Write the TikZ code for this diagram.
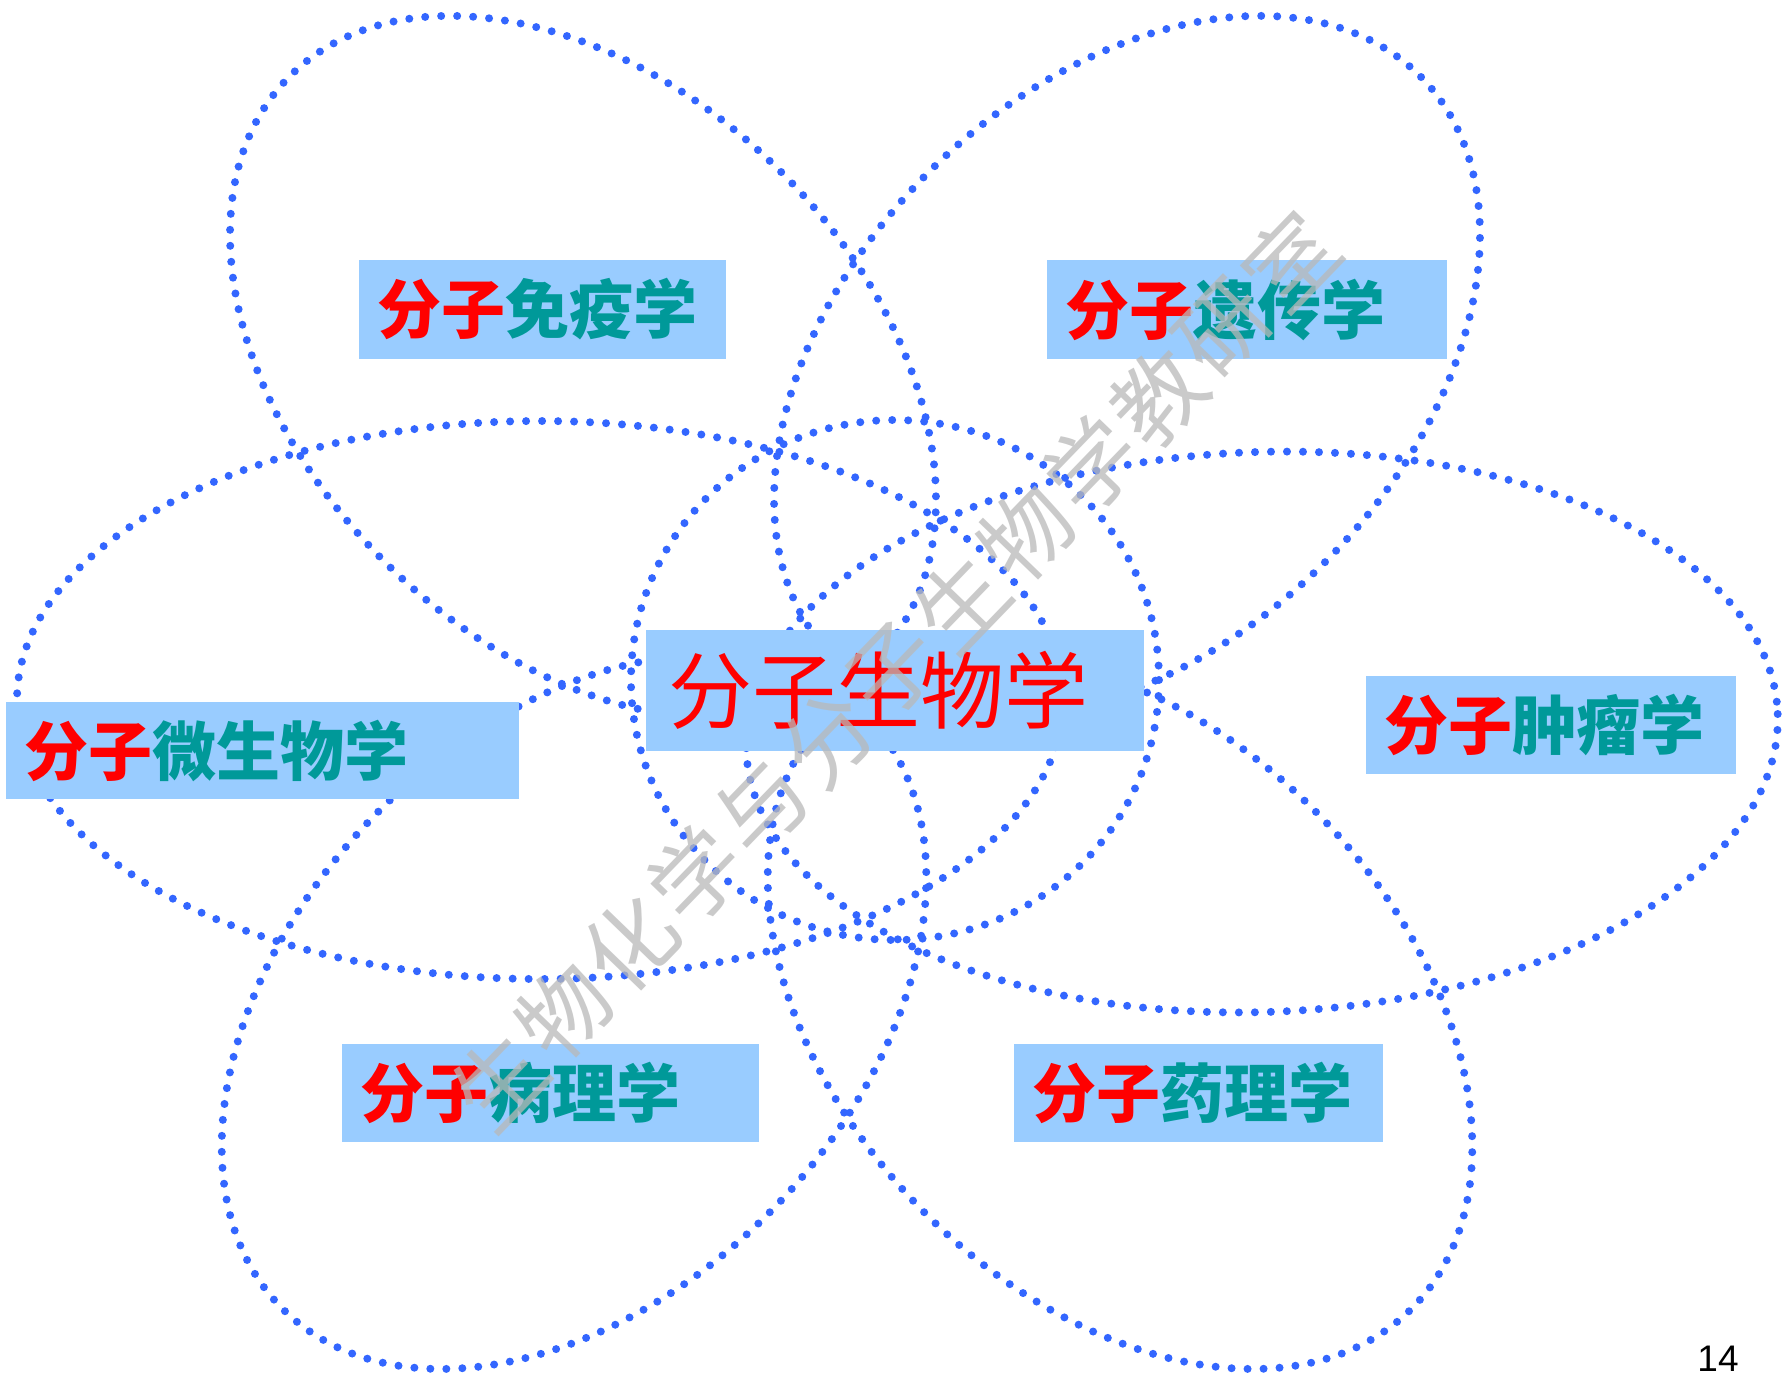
\documentclass[tikz,border=0pt]{standalone}
\usepackage{fontspec}
\setsansfont{Liberation Sans}
\newfontfamily\cjk{Noto Sans CJK SC}
\definecolor{dotblue}{RGB}{51,102,255}
\definecolor{boxblue}{RGB}{153,204,255}
\definecolor{tealtxt}{RGB}{0,153,153}
\definecolor{redtxt}{RGB}{255,0,0}
\definecolor{wmgray}{RGB}{185,185,185}
\tikzset{
  dotell/.style={draw=dotblue, line width=8pt, line cap=round, dash pattern=on 0pt off 16pt},
  boxbg/.style={fill=boxblue, draw=none, inner sep=0pt},
  lbl/.style={anchor=west, inner sep=0pt, font=\cjk\bfseries\fontsize{64}{64}\selectfont},
  mainlbl/.style={anchor=west, inner sep=0pt, text=redtxt, font=\cjk\fontsize{84}{84}\selectfont},
  wmark/.style={inner sep=0pt, text=wmgray, opacity=0.75, rotate=46, font=\cjk\fontsize{90}{90}\selectfont},
}
\begin{document}
\begin{tikzpicture}[x=1pt,y=-1pt]
\useasboundingbox (0,0) rectangle (1785,1389);
\fill[white] (0,0) rectangle (1785,1389);
% dotted ellipses
\draw[dotell, rotate around={-44.6:(583,367)}] (583,367) ellipse [x radius=413, y radius=278];
\draw[dotell, rotate around={44.6:(1127,367)}] (1127,367) ellipse [x radius=413, y radius=278];
\draw[dotell] (540,700) ellipse [x radius=523, y radius=279];
\draw[dotell, rotate around={2:(1262,732)}] (1262,732) ellipse [x radius=516, y radius=280];
\draw[dotell, rotate around={46:(574,1012)}] (574,1012) ellipse [x radius=416, y radius=280];
\draw[dotell, rotate around={-46:(1120,1012)}] (1120,1012) ellipse [x radius=416, y radius=280];
\draw[dotell] (895,680) ellipse [x radius=264, y radius=260];
% label boxes
\node[boxbg, minimum width=367pt, minimum height=99pt] (bimm) at (542.5,309.5) {};
\node[boxbg, minimum width=400pt, minimum height=99pt] (bgen) at (1247,309.5) {};
\node[boxbg, minimum width=498pt, minimum height=121pt] (bmol) at (895,690.5) {};
\node[boxbg, minimum width=513pt, minimum height=97pt] (bmic) at (262.5,750.5) {};
\node[boxbg, minimum width=370pt, minimum height=98pt] (btum) at (1551,725) {};
\node[boxbg, minimum width=417pt, minimum height=98pt] (bpat) at (550.5,1093) {};
\node[boxbg, minimum width=369pt, minimum height=98pt] (bpha) at (1198.5,1093) {};
% labels
\node[lbl] (timm) at (377,309.5) {\textcolor{redtxt}{分子}\textcolor{tealtxt}{免疫学}};
\node[lbl] (tgen) at (1065,309.5) {\textcolor{redtxt}{分子}\textcolor{tealtxt}{遗传学}};
\node[mainlbl] (tmol) at (668,690.5) {分子生物学};
\node[lbl] (tmic) at (24,750.5) {\textcolor{redtxt}{分子}\textcolor{tealtxt}{微生物学}};
\node[lbl] (ttum) at (1384,725) {\textcolor{redtxt}{分子}\textcolor{tealtxt}{肿瘤学}};
\node[lbl] (tpat) at (360,1093) {\textcolor{redtxt}{分子}\textcolor{tealtxt}{病理学}};
\node[lbl] (tpha) at (1032,1093) {\textcolor{redtxt}{分子}\textcolor{tealtxt}{药理学}};
% page number
\node[inner sep=0pt, font=\sffamily\fontsize{37}{37}\selectfont] (pg) at (1718,1359) {14};
% watermark
\foreach \ch [count=\i from 0] in {生,物,化,学,与,分,子,生,物,学,教,研,室}{
  \node[wmark] (wm\i) at ({960+(\i-7)*66.0},{602-(\i-7)*68.3}) {\ch};
}
\end{tikzpicture}
\end{document}
